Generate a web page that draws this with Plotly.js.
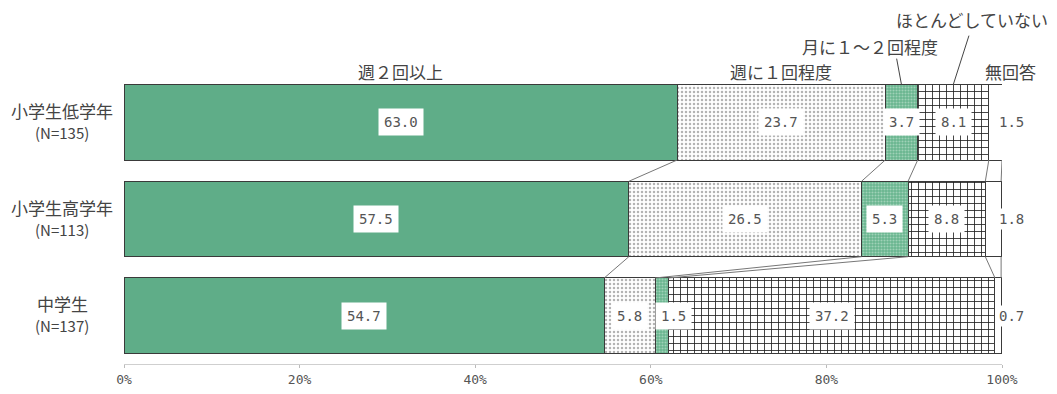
<!DOCTYPE html>
<html>
<head>
<meta charset="utf-8">
<script src="https://cdn.plot.ly/plotly-3.0.1.min.js"></script>
<style>html,body{margin:0;padding:0;background:#fff;}#chart{width:1057px;height:394px;}</style>
</head>
<body>
<div id="chart"></div>
<script>
// ---- data ----
const categories = ['小学生低学年', '小学生高学年', '中学生'];
const sampleSizes = ['(N=135)', '(N=113)', '(N=137)'];
const seriesNames = ['週２回以上', '週に１回程度', '月に１～２回程度', 'ほとんどしていない', '無回答'];
const weekly2Plus = [63.0, 57.5, 54.7];
const weekly1 = [23.7, 26.5, 5.8];
const monthly1to2 = [3.7, 5.3, 1.5];
const rarely = [8.1, 8.8, 37.2];
const noAnswer = [1.5, 1.8, 0.7];
const xTickVals = [0, 20, 40, 60, 80, 100];
const xTickText = ['0%', '20%', '40%', '60%', '80%', '100%'];

// ---- styling ----
const series = [weekly2Plus, weekly1, monthly1to2, rarely, noAnswer];
const GREEN = '#5fad88';
const OUTLINE = '#3a3a3a';
const styles = [
  {color: GREEN, pattern: {shape: ''}},
  {color: '#ffffff', pattern: {shape: '.', fgcolor: '#b4b4b4', bgcolor: '#ffffff', size: 4, solidity: 0.3}},
  {color: '#6fb896', pattern: {shape: '.', fgcolor: '#9fd2b7', bgcolor: '#69b58f', size: 3, solidity: 0.4}},
  {color: '#ffffff', pattern: {shape: '+', fgcolor: '#1e1e1e', bgcolor: '#ffffff', size: 7, solidity: 0.22}},
  {color: '#ffffff', pattern: {shape: ''}}
];
const BAR_W = 0.78;
const half = BAR_W / 2;
const rowIdx = categories.map((_, i) => i);
const numFont = {family: 'DejaVu Sans Mono, monospace', size: 14, color: '#555'};
const jpFont = {family: 'Noto Sans CJK JP, sans-serif', size: 17, color: '#444'};
const nFont = {family: 'Noto Sans CJK JP, sans-serif', size: 15, color: '#444'};

const traces = series.map((vals, k) => ({
  type: 'bar', orientation: 'h', name: seriesNames[k],
  x: vals, y: rowIdx, width: BAR_W,
  marker: {color: styles[k].color, pattern: styles[k].pattern, line: {color: OUTLINE, width: 1}},
  hoverinfo: 'x+name', showlegend: false
}));

// cumulative boundaries per row
const cum = rowIdx.map(i => {
  const out = [0];
  series.forEach(s => out.push(out[out.length - 1] + s[i]));
  return out;
});

const annotations = [];
const shapes = [];
rowIdx.forEach(i => {
  series.forEach((s, k) => {
    const isLast = k === series.length - 1;
    let xshift = 0;
    if (!isLast && k > 0) {
      // nudge a label right if the previous segment is too narrow to hold both boxes
      if (s[i] < 3 && series[k - 1][i] < 10) xshift = 12;
    }
    annotations.push({
      x: isLast ? 100 : cum[i][k] + s[i] / 2, y: i, xref: 'x', yref: 'y',
      text: s[i].toFixed(1), showarrow: false, xanchor: 'center', yanchor: 'middle',
      xshift: isLast ? 9 : xshift,
      font: numFont, bgcolor: '#ffffff', borderpad: isLast ? 2 : 5
    });
  });
  // row labels (two separate lines, centred)
  annotations.push({
    x: 0, xref: 'paper', y: i, yref: 'y', xanchor: 'center', yanchor: 'middle',
    xshift: -62, yshift: 12, text: categories[i], showarrow: false, font: jpFont
  });
  annotations.push({
    x: 0, xref: 'paper', y: i, yref: 'y', xanchor: 'center', yanchor: 'middle',
    xshift: -62, yshift: -10, text: sampleSizes[i], showarrow: false, font: nFont
  });
});

// series headers above first bar
const top0 = 0 - half;
const headerPos = [
  {x: cum[0][0] + weekly2Plus[0] / 2, xs: 0, ys: 13},
  {x: cum[0][1] + weekly1[0] / 2, xs: 0, ys: 13},
  {x: cum[0][2] + monthly1to2[0] / 2, xs: -31, ys: 38, lead: [-5, -27]},
  {x: cum[0][3] + rarely[0] / 2, xs: 19, ys: 65, lead: [16, -50]},
  {x: 100, xs: 8, ys: 13}
];
headerPos.forEach((h, k) => {
  annotations.push({
    x: h.x, y: top0, xref: 'x', yref: 'y', text: seriesNames[k], showarrow: false,
    xanchor: 'center', yanchor: 'middle', xshift: h.xs, yshift: h.ys, font: jpFont
  });
  if (h.lead) {
    annotations.push({
      x: h.x, y: top0, xref: 'x', yref: 'y', text: ' ', showarrow: true,
      arrowhead: 0, arrowwidth: 1, arrowcolor: '#444', ax: h.lead[0], ay: h.lead[1],
      standoff: 0, startstandoff: 0, font: {size: 1}, borderpad: 0
    });
  }
});

// connector lines between consecutive bars
for (let i = 0; i < categories.length - 1; i++) {
  for (let k = 1; k < cum[i].length; k++) {
    shapes.push({
      type: 'line', xref: 'x', yref: 'y',
      x0: cum[i][k], y0: i + half, x1: cum[i + 1][k], y1: i + 1 - half,
      line: {color: '#777', width: 1}
    });
  }
}

const layout = {
  width: 1057, height: 394,
  margin: {l: 124, r: 55, t: 74, b: 30, pad: 0},
  paper_bgcolor: '#ffffff', plot_bgcolor: '#ffffff',
  barmode: 'stack',
  xaxis: {
    range: [0, 100], tickvals: xTickVals, ticktext: xTickText,
    showgrid: false, zeroline: false, showline: true, linecolor: '#cfcfcf', linewidth: 1,
    ticks: 'outside', ticklen: 3, tickcolor: '#bbb',
    tickfont: {family: 'DejaVu Sans Mono, monospace', size: 13, color: '#555'}
  },
  yaxis: {
    range: [categories.length - 0.5, -0.5], showticklabels: false, showgrid: false,
    zeroline: false, showline: false, ticks: ''
  },
  annotations: annotations,
  shapes: shapes,
  showlegend: false
};

Plotly.newPlot('chart', traces, layout, {staticPlot: true, displayModeBar: false});
</script>
</body>
</html>
